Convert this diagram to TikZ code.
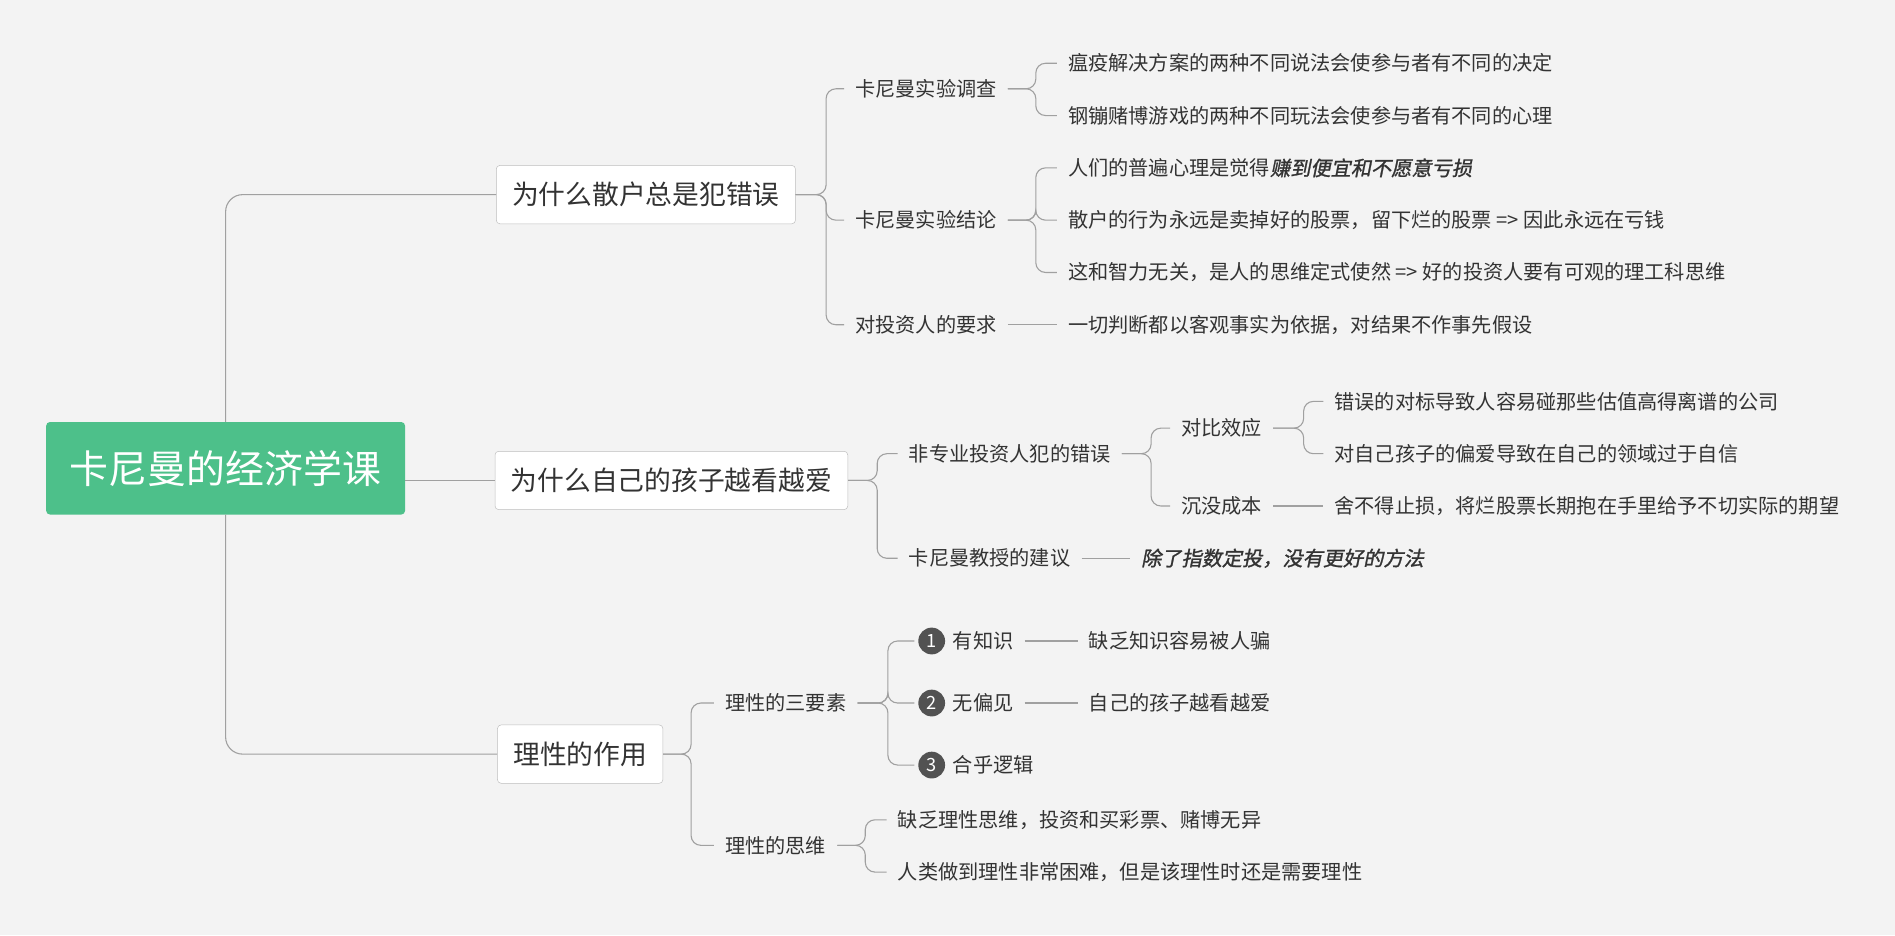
\documentclass[tikz,border=0pt]{standalone}
\usepackage{fontspec}
\setmainfont{Noto Sans CJK SC}
\newfontfamily\bifont[FakeSlant=0.2,FakeBold=1.2]{Noto Sans CJK SC}
\usetikzlibrary{positioning}
\definecolor{bgcol}{HTML}{F3F3F3}
\definecolor{rootcol}{HTML}{4DC08A}
\definecolor{linecol}{HTML}{A0A0A0}
\definecolor{txtcol}{HTML}{333333}
\tikzset{
  root/.style={fill=rootcol,rounded corners=3pt,text=white,font=\fontsize{32}{36}\selectfont,minimum width=295pt,minimum height=76pt},
  topic/.style={draw=linecol!70,fill=white,rounded corners=3pt,text=txtcol,font=\fontsize{22}{25}\selectfont,minimum height=48pt,inner xsep=13pt},
  leaf/.style={anchor=west,text=txtcol,font=\fontsize{16.6}{19}\selectfont,inner xsep=9pt,inner ysep=2pt},
  numdot/.style={circle,fill=txtcol!85,text=white,minimum size=22pt,inner sep=0pt,font=\fontsize{15}{18}\selectfont},
  link/.style={draw=linecol,line width=0.9pt,rounded corners=8pt}
}
\newcommand{\fork}[3]{\draw[link] (#1.east) -- ++(#3,0) |- (#2.west);}
\newcommand{\single}[2]{\draw[link] (#1.east) -- (#1.east -| #2.west);}
\begin{document}
\begin{tikzpicture}[x=1pt,y=1pt]
\fill[bgcol] (0,0) rectangle (1558,-769);
\useasboundingbox (0,0) rectangle (1558,-769);
% root and topics
\node[root] (root) at (185.5,-385) {卡尼曼的经济学课};
\node[topic] (t1) at (531,-160) {为什么散户总是犯错误};
\node[topic] (t2) at (552,-395) {为什么自己的孩子越看越爱};
\node[topic] (t3) at (477,-620) {理性的作用};
\draw[link,rounded corners=14pt] (root.north) |- (t1.west);
\draw[link,rounded corners=14pt] (root.south) |- (t3.west);
\draw[link] (root.east |- t2.west) -- (t2.west);
% branch 1
\node[leaf] (a1) at (694,-73) {卡尼曼实验调查};
\node[leaf] (a2) at (694,-181) {卡尼曼实验结论};
\node[leaf] (a3) at (694,-267) {对投资人的要求};
\foreach \c in {a1,a2,a3} {\fork{t1}{\c}{25}}
\node[leaf] (a11) at (869,-52) {瘟疫解决方案的两种不同说法会使参与者有不同的决定};
\node[leaf] (a12) at (869,-95) {钢镚赌博游戏的两种不同玩法会使参与者有不同的心理};
\foreach \c in {a11,a12} {\fork{a1}{\c}{23}}
\node[leaf] (a21) at (869,-138) {人们的普遍心理是觉得{\bifont 赚到便宜和不愿意亏损}};
\node[leaf] (a22) at (869,-181) {散户的行为永远是卖掉好的股票，留下烂的股票 => 因此永远在亏钱};
\node[leaf] (a23) at (869,-224) {这和智力无关，是人的思维定式使然 => 好的投资人要有可观的理工科思维};
\foreach \c in {a21,a22,a23} {\fork{a2}{\c}{23}}
\node[leaf] (a31) at (869,-267) {一切判断都以客观事实为依据，对结果不作事先假设};
\single{a3}{a31}
% branch 2
\node[leaf] (b1) at (738,-373) {非专业投资人犯的错误};
\node[leaf] (b2) at (738,-459) {卡尼曼教授的建议};
\foreach \c in {b1,b2} {\fork{t2}{\c}{24}}
\node[leaf] (b11) at (962,-352) {对比效应};
\node[leaf] (b12) at (962,-416) {沉没成本};
\foreach \c in {b11,b12} {\fork{b1}{\c}{24}}
\node[leaf] (b111) at (1088,-330) {错误的对标导致人容易碰那些估值高得离谱的公司};
\node[leaf] (b112) at (1088,-373) {对自己孩子的偏爱导致在自己的领域过于自信};
\foreach \c in {b111,b112} {\fork{b11}{\c}{25}}
\node[leaf] (b121) at (1088,-416) {舍不得止损，将烂股票长期抱在手里给予不切实际的期望};
\single{b12}{b121}
\node[leaf] (b21) at (929,-459) {{\bifont 除了指数定投，没有更好的方法}};
\single{b2}{b21}
% branch 3
\node[leaf] (c1) at (587,-578) {理性的三要素};
\node[leaf] (c2) at (587,-695) {理性的思维};
\foreach \c in {c1,c2} {\fork{t3}{\c}{23}}
\foreach \i/\y/\t in {1/527/有知识,2/578/无偏见,3/629/合乎逻辑} {
  \node[numdot] (n\i) at (766,-\y) {\i};
  \node[leaf,right=-3pt of n\i] (c1\i) {\t};
  \draw[link] (c1.east) -- ++(25,0) |- ([xshift=-3pt]n\i.west);
}
\node[leaf] (c111) at (886,-527) {缺乏知识容易被人骗};
\node[leaf] (c121) at (886,-578) {自己的孩子越看越爱};
\single{c11}{c111}
\single{c12}{c121}
\node[leaf] (c21) at (729,-674) {缺乏理性思维，投资和买彩票、赌博无异};
\node[leaf] (c22) at (729,-717) {人类做到理性非常困难，但是该理性时还是需要理性};
\foreach \c in {c21,c22} {\fork{c2}{\c}{23}}
\end{tikzpicture}
\end{document}
